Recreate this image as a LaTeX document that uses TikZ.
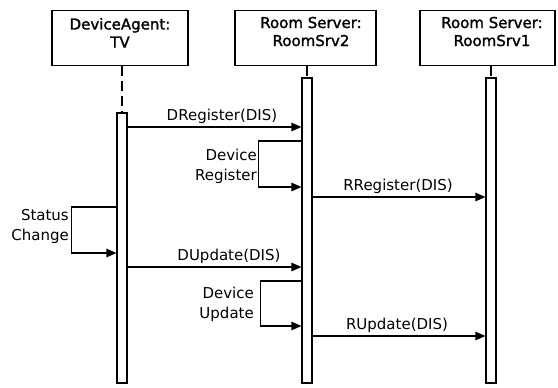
\documentclass[tikz,border=0pt]{standalone}
\usepackage{fontspec}
\setmainfont{DejaVu Sans}
\newfontfamily\titlefont[FakeBold=1.5]{DejaVu Sans}
\usetikzlibrary{arrows.meta}
\tikzset{
  objbox/.style={draw, line width=1.8pt, inner sep=0pt, fill=white},
  titletext/.style={font=\titlefont\fontsize{15}{18}\selectfont, align=center, inner sep=0pt, anchor=base},
  actbar/.style={draw, line width=1.1pt, fill=white, inner sep=0pt, minimum width=10pt},
  lifeline/.style={line width=1.8pt, dash pattern=on 10pt off 5pt},
  msg/.style={line width=1.1pt, -{Triangle[length=10pt,width=8.5pt]}},
  lbl/.style={font=\fontsize{15}{20}\selectfont, inner sep=0pt, anchor=base},
  looplbl/.style={font=\fontsize{15}{20}\selectfont, inner sep=0pt, align=right, anchor=base east}
}
\begin{document}
\begin{tikzpicture}[x=1pt,y=-1pt]
\useasboundingbox (0,0) rectangle (558,388);
% object boxes
\node[objbox, minimum width=136pt, minimum height=55pt] (o1) at (120,38) {};
\node[objbox, minimum width=141pt, minimum height=55pt] (o2) at (305.5,38) {};
\node[objbox, minimum width=135pt, minimum height=55pt] (o3) at (487.5,38) {};
\node[titletext] (t1) at (120,47.5) {DeviceAgent:\\TV};
\node[titletext] (t2) at (311,46) {Room Server:\\RoomSrv2};
\node[titletext] (t3) at (492,46) {Room Server:\\RoomSrv1};
% activation bars
\node[actbar, minimum height=270pt] (a1) at (122,248) {};
\node[actbar, minimum height=305pt] (a2) at (307,230.5) {};
\node[actbar, minimum height=305pt] (a3) at (491,230.5) {};
% lifelines
\draw[lifeline] (a1.north |- o1.south) -- (a1.north);
\draw[lifeline] (a2.north |- o2.south) -- (a2.north);
\draw[lifeline] (a3.north |- o3.south) -- (a3.north);
% messages
\draw[msg] (a1.east |- 0,127) -- (a2.west |- 0,127);
\node[lbl] (m1) at (222,120) {DRegister(DIS)};
\draw[msg] (a2.west |- 0,141) -- ++(-43,0) |- (a2.west |- 0,187);
\node[looplbl] (l1) at (257,180) {Device\\Register};
\draw[msg] (a2.east |- 0,197) -- (a3.west |- 0,197);
\node[lbl] (m2) at (398,190) {RRegister(DIS)};
\draw[msg] (a1.west |- 0,207) -- ++(-45,0) |- (a1.west |- 0,253);
\node[looplbl] (l2) at (69,240) {Status\\Change};
\draw[msg] (a1.east |- 0,267) -- (a2.west |- 0,267);
\node[lbl] (m3) at (229,260) {DUpdate(DIS)};
\draw[msg] (a2.west |- 0,281) -- ++(-41,0) |- (a2.west |- 0,326);
\node[looplbl] (l3) at (254,318) {Device\\Update};
\draw[msg] (a2.east |- 0,336) -- (a3.west |- 0,336);
\node[lbl] (m4) at (397,329) {RUpdate(DIS)};
\end{tikzpicture}
\end{document}
